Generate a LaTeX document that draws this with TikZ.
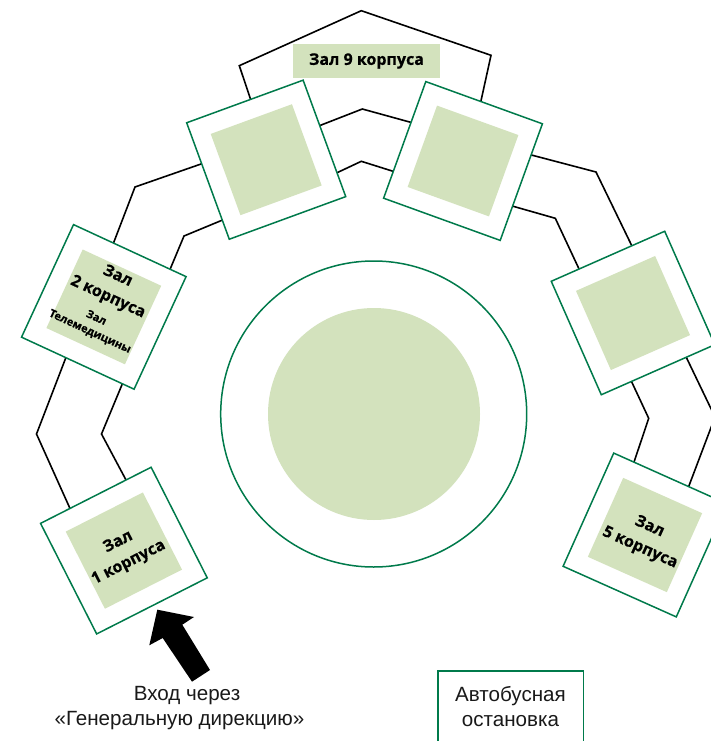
\documentclass[tikz,border=0pt]{standalone}
\usepackage{fontspec}
\setmainfont{Liberation Sans}
\newfontfamily\labelfont[BoldFeatures={FakeBold=0.6}]{Open Sans}
\usetikzlibrary{calc,backgrounds}
\definecolor{hallgreen}{HTML}{007A4B}
\definecolor{softgreen}{HTML}{D3E2BD}
\tikzset{
  outerbox/.style={draw=hallgreen,line width=1.5pt,fill=white,minimum width=124pt,minimum height=124pt,inner sep=0pt,outer sep=0pt},
  innerbox/.style={fill=softgreen,minimum width=86.5pt,minimum height=86.5pt,inner sep=0pt,outer sep=0pt},
  halltext/.style={align=center,text=black,inner sep=0pt,font=\labelfont\bfseries\fontsize{16}{23}\selectfont},
  smalltext/.style={align=center,text=black,inner sep=0pt,font=\labelfont\bfseries\fontsize{11}{15}\selectfont},
  corridor/.style={draw=black,line width=1.6pt,line join=miter},
  plaintext/.style={align=center,text=black!90,font=\fontsize{20.6}{25}\selectfont,inner sep=0pt},
}
\newcommand{\hallbox}[3]{%
  \node[outerbox,rotate=#3] (#1) at (#2) {};
  \node[innerbox,rotate=#3] (#1i) at (#2) {};
}
\begin{document}
\begin{tikzpicture}[x=1pt,y=-1pt]
\useasboundingbox (0,0) rectangle (711,741);
\clip (0,0) rectangle (711,741);
% central circle
\node[circle,draw=hallgreen,line width=1.5pt,fill=white,minimum size=306pt,inner sep=0pt] (outerc) at (373.7,414) {};
\node[circle,fill=softgreen,minimum size=212pt,inner sep=0pt] (innerc) at (374,414) {};
% halls
\hallbox{sa}{123.9,550.6}{26.9}
\hallbox{sb}{103.8,306.9}{-24.8}
\hallbox{sc}{266.2,159.7}{20.1}
\hallbox{sd}{463,161}{-19.9}
\hallbox{se}{633,313}{23.8}
\hallbox{sf}{645,535}{-24.1}
\node[halltext,rotate=26.9] (ta) at (123.5,552.5) {Зал\\1 корпуса};
\node[halltext,rotate=-24.8] (tb) at (112.7,287) {Зал\\2 корпуса};
\node[smalltext,rotate=-24.8] (tc) at (93,325) {Зал\\Телемедицины};
\node[halltext,rotate=-24.1] (tf) at (644.7,537.5) {Зал\\5 корпуса};
% top hall
\node[fill=softgreen,minimum width=147pt,minimum height=34pt,inner sep=0pt,text=black,font=\labelfont\bfseries\fontsize{16}{18}\selectfont] (top) at (366.5,61) {\raisebox{2pt}{Зал 9 корпуса}};
% ports
\coordinate (a1) at ($(sa.north west)!.266!(sa.north east)$);
\coordinate (a2) at ($(sa.north west)!.773!(sa.north east)$);
\coordinate (b1) at ($(sb.south west)!.394!(sb.south east)$);
\coordinate (b2) at ($(sb.south west)!.896!(sb.south east)$);
\coordinate (b3) at ($(sb.north west)!.355!(sb.north east)$);
\coordinate (b4) at ($(sb.north west)!.858!(sb.north east)$);
\coordinate (c1) at ($(sc.north west)!.352!(sc.south west)$);
\coordinate (c2) at ($(sc.north west)!.836!(sc.south west)$);
\coordinate (c3) at ($(sc.north west)!.549!(sc.north east)$);
\coordinate (c4) at ($(sc.north east)!.39!(sc.south east)$);
\coordinate (c5) at ($(sc.north east)!.795!(sc.south east)$);
\coordinate (d1) at ($(sd.north west)!.472!(sd.north east)$);
\coordinate (d2) at ($(sd.north west)!.35!(sd.south west)$);
\coordinate (d3) at ($(sd.north west)!.77!(sd.south west)$);
\coordinate (d4) at ($(sd.north east)!.267!(sd.south east)$);
\coordinate (d5) at ($(sd.north east)!.706!(sd.south east)$);
\coordinate (e1) at ($(se.north west)!.245!(se.north east)$);
\coordinate (e2) at ($(se.north west)!.71!(se.north east)$);
\coordinate (e3) at ($(se.south west)!.266!(se.south east)$);
\coordinate (e4) at ($(se.south west)!.749!(se.south east)$);
\coordinate (f1) at ($(sf.north west)!.179!(sf.north east)$);
\coordinate (f2) at ($(sf.north west)!.662!(sf.north east)$);
% corridors
\begin{pgfonlayer}{background}
\draw[corridor] (a1) -- (36.5,434) -- (b1);
\draw[corridor] (a2) -- (101.5,434) -- (b2);
\draw[corridor] (b3) -- (135,187) -- (c1);
\draw[corridor] (b4) -- (184,236) -- (c2);
\draw[corridor] (c3) -- (239.3,65.7) -- (361.3,10.7) -- (491,55.3) -- (d1);
\draw[corridor] (c4) -- (362.3,109) -- (d2);
\draw[corridor] (c5) -- (361.3,161.3) -- (d3);
\draw[corridor] (d4) -- (596,172) -- (e2);
\draw[corridor] (d5) -- (555.3,218.3) -- (e1);
\draw[corridor] (e3) -- (648.7,418.3) -- (f1);
\draw[corridor] (e4) -- (715,417) -- (f2);
\end{pgfonlayer}
% entrance arrow
\fill[black] (157.3,609.7) -- (194,617) -- (182.3,624.7) -- (210,670) -- (192,681.7) -- (162.7,638) -- (149.3,645.3) -- cycle;
\node[plaintext] (entrya) at (187,696) {Вход через};
\node[plaintext] (entryb) at (179.5,721) {«Генеральную дирекцию»};
\node[draw=hallgreen,line width=1.5pt,minimum width=145.5pt,minimum height=80pt,inner sep=0pt,anchor=north west] (bus) at (437,670) {};
\node[plaintext] (bustext) at (510.5,707) {Автобусная\\остановка};
\end{tikzpicture}
\end{document}
